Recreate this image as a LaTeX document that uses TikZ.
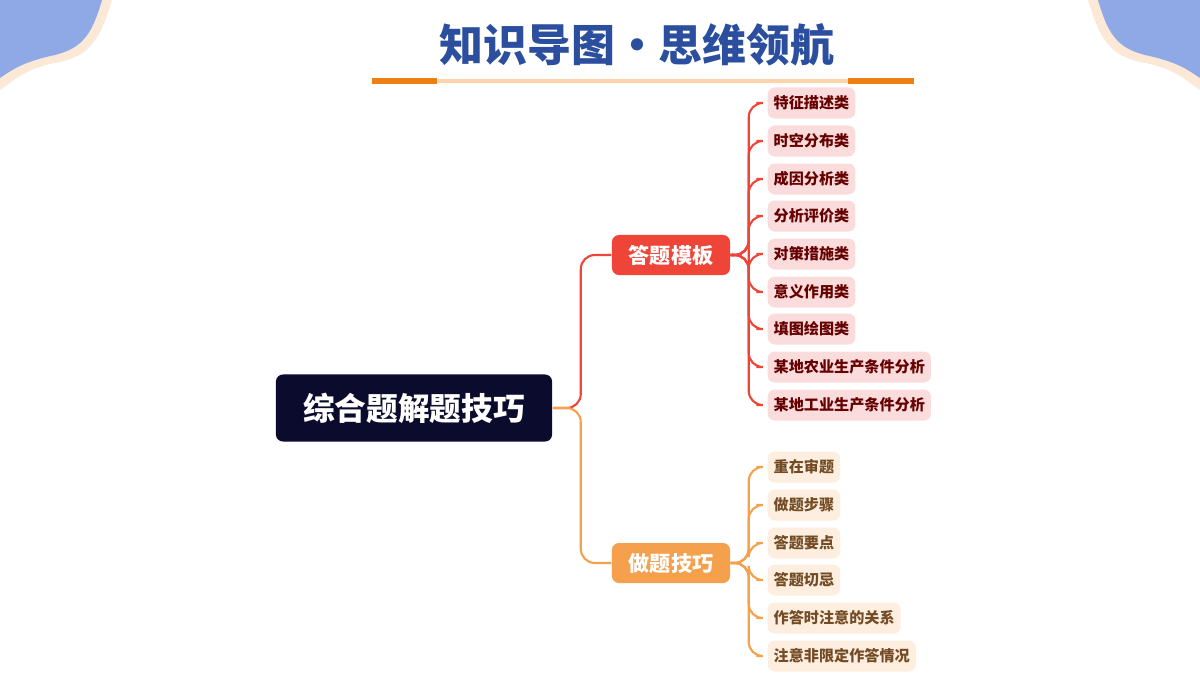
\documentclass[tikz,border=0pt]{standalone}
\usepackage{fontspec}
\setmainfont{Noto Sans CJK SC}
\usetikzlibrary{positioning}
\definecolor{titleblue}{HTML}{2B4F9E}
\definecolor{rootbg}{HTML}{0B0B2E}
\definecolor{redbr}{HTML}{EF4438}
\definecolor{orangebr}{HTML}{F4A04C}
\definecolor{pinkleaf}{HTML}{FBDCDC}
\definecolor{peachleaf}{HTML}{FDEEDF}
\definecolor{cornerblue}{HTML}{8FA9E6}
\definecolor{cream}{HTML}{FBE8D6}
\tikzset{every node/.style={inner sep=0pt},
  rootbox/.style={fill=rootbg,text=white,font=\fontsize{9}{9}\bfseries,rounded corners=2pt,minimum width=2.76cm,minimum height=0.67cm},
  branchbox/.style={rounded corners=2pt,text=white,font=\fontsize{6}{6}\bfseries,minimum width=1.18cm,minimum height=0.40cm},
  leafbox/.style={rounded corners=2pt,font=\fontsize{4.3}{4.3}\bfseries,inner xsep=0.6mm,minimum height=0.31cm,anchor=west},
  link/.style={line width=0.6pt,rounded corners=4pt}}
\newcommand{\leafA}[3]{\node[leafbox,fill=pinkleaf,text=red!40!black] at (#1) (#2) {#3}}
\newcommand{\leafB}[3]{\node[leafbox,fill=peachleaf,text=brown!60!black] at (#1) (#2) {#3}}

\begin{document}
\begin{tikzpicture}[x=0.01cm,y=-0.01cm]
  \useasboundingbox (0,0) rectangle (1200,675);
  % corners
  \fill[cream] (0,0) -- (112,0) .. controls (100,40) and (90,55) .. (60,62) .. controls (25,68) and (15,80) .. (0,90) -- cycle;
  \fill[cornerblue] (0,0) -- (102,0) .. controls (92,35) and (82,48) .. (55,55) .. controls (22,62) and (12,70) .. (0,78) -- cycle;
  \fill[cream] (1200,0) -- (1088,0) .. controls (1100,40) and (1110,55) .. (1140,62) .. controls (1175,68) and (1185,80) .. (1200,90) -- cycle;
  \fill[cornerblue] (1200,0) -- (1098,0) .. controls (1108,35) and (1118,48) .. (1145,55) .. controls (1178,62) and (1188,70) .. (1200,78) -- cycle;

  % title
  \node[text=titleblue,font=\fontsize{12.5}{12.5}\bfseries] (title) at (637,45) {知识导图•思维领航};
  \draw[line width=1.2pt,cream!80!orange] (372,81) -- (914,81);
  \draw[line width=1.8pt,orange!70!brown] (372,81) -- (437,81) (848,81) -- (914,81);

  \node[rootbox] (root) at (414,408) {综合题解题技巧};
  \node[branchbox,fill=redbr] (tmpl) at (671,255) {答题模板};
  \node[branchbox,fill=orangebr] (tech) at (671,563) {做题技巧};

  \leafA{767,103}{a1}{特征描述类};
  \leafA{767,141}{a2}{时空分布类};
  \leafA{767,179}{a3}{成因分析类};
  \leafA{767,216}{a4}{分析评价类};
  \leafA{767,254}{a5}{对策措施类};
  \leafA{767,292}{a6}{意义作用类};
  \leafA{767,329}{a7}{填图绘图类};
  \leafA{767,367}{a8}{某地农业生产条件分析};
  \leafA{767,405}{a9}{某地工业生产条件分析};

  \leafB{767,467}{b1}{重在审题};
  \leafB{767,505}{b2}{做题步骤};
  \leafB{767,543}{b3}{答题要点};
  \leafB{767,580}{b4}{答题切忌};
  \leafB{767,618}{b5}{作答时注意的关系};
  \leafB{767,656}{b6}{注意非限定作答情况};

  \draw[link,redbr] (root.east) -- ++(28,0) |- (tmpl.west);
  \draw[link,orangebr] (root.east) -- ++(28,0) |- (tech.west);
  \foreach \l in {a1,a2,a3,a4,a5,a6,a7,a8,a9}
    \draw[link,redbr,shorten >=3pt] (tmpl.east) -- ++(18,0) |- (\l.west);
  \foreach \l in {b1,b2,b3,b4,b5,b6}
    \draw[link,orangebr,shorten >=3pt] (tech.east) -- ++(18,0) |- (\l.west);
\end{tikzpicture}
\end{document}
